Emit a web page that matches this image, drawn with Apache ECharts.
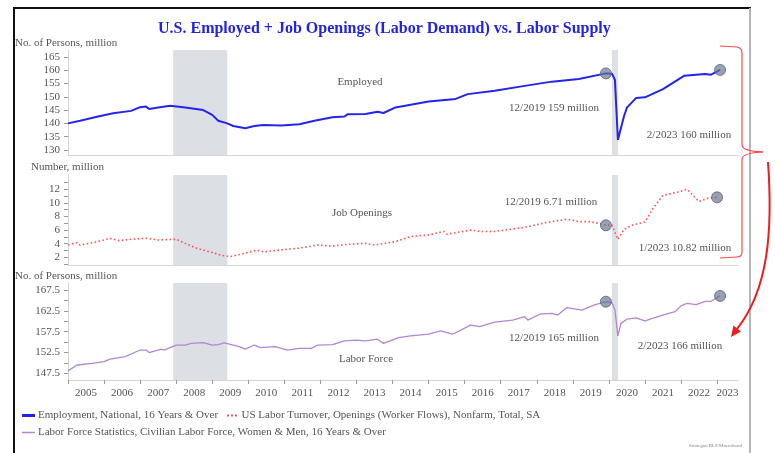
<!DOCTYPE html>
<html>
<head>
<meta charset="utf-8">
<script src="https://cdn.jsdelivr.net/npm/echarts@6/dist/echarts.min.js"></script>
<style>
  html, body { margin: 0; padding: 0; background: #fff; }
  #chart { width: 775px; height: 453px; }
</style>
</head>
<body>
<div id="chart"></div>
<script>
// Employed (million)
const employedDates = ['2005-01','2005-05','2005-11','2006-04','2006-10','2007-01','2007-03','2007-04','2007-07','2007-11',
  '2008-04','2008-10','2009-01','2009-03','2009-06','2009-08','2009-12','2010-03','2010-06','2010-12',
  '2011-06','2011-11','2012-05','2012-09','2012-10','2013-04','2013-08','2013-10','2014-02','2015-01',
  '2015-10','2016-02','2016-11','2017-09','2018-06','2019-03','2019-12','2020-02','2020-03','2020-04',
  '2020-06','2020-07','2020-10','2021-01','2021-07','2022-02','2022-09','2022-11','2023-02'];
const employedValues = [140.0,141.0,142.6,143.8,144.7,146.1,146.3,145.4,146.0,146.6,
  146.0,145.0,143.2,141.0,140.0,139.0,138.2,139.0,139.4,139.2,
  139.7,141.0,142.3,142.6,143.4,143.5,144.4,143.9,146.0,148.2,
  149.2,151.0,152.3,154.1,155.7,156.7,158.8,158.7,156.4,133.8,
  142.6,145.9,149.5,149.8,152.9,157.9,158.6,158.3,160.1];

// Job openings (million), middle panel
const openingsDates = ['2005-01','2005-04','2005-05','2005-11','2006-03','2006-06','2006-10','2007-03','2007-07','2008-01',
  '2008-04','2008-08','2009-01','2009-04','2009-07','2009-10','2010-04','2010-06','2010-12','2011-06',
  '2011-12','2012-05','2012-10','2013-04','2013-07','2014-02','2014-07','2015-01','2015-06','2015-07',
  '2016-03','2016-06','2016-11','2017-04','2017-10','2018-04','2018-11','2019-03','2019-07','2019-12',
  '2020-02','2020-04','2020-06','2020-09','2021-01','2021-04','2021-07','2021-12','2022-03','2022-05',
  '2022-07','2022-10','2023-01'];
const openingsValues = [3.8,4.15,3.8,4.3,4.8,4.45,4.65,4.8,4.55,4.65,
  4.05,3.3,2.7,2.3,2.1,2.4,3.07,2.8,3.1,3.35,
  3.8,3.65,3.9,4.05,3.8,4.3,5.05,5.3,5.8,5.4,
  6.0,5.8,5.8,6.1,6.5,7.1,7.6,7.25,7.25,6.71,
  6.75,4.65,6.1,6.75,7.2,9.4,11.1,11.6,12.0,11.1,
  10.2,10.7,10.82];

// Civilian labor force (million), bottom panel
const laborDates = ['2005-01','2005-04','2005-09','2006-01','2006-03','2006-08','2007-01','2007-03','2007-04','2007-08',
  '2007-09','2008-01','2008-04','2008-06','2008-10','2009-01','2009-03','2009-05','2009-08','2009-10',
  '2009-12','2010-03','2010-05','2010-10','2010-12','2011-02','2011-06','2011-10','2011-12','2012-05',
  '2012-09','2013-01','2013-04','2013-08','2013-10','2014-03','2014-07','2015-01','2015-05','2015-09',
  '2016-03','2016-06','2016-11','2017-05','2017-09','2017-10','2018-02','2018-06','2018-08','2018-11',
  '2019-04','2019-08','2019-12','2020-02','2020-03','2020-04','2020-05','2020-07','2020-10','2021-01',
  '2021-04','2021-08','2021-11','2022-01','2022-03','2022-06','2022-09','2022-11','2023-02'];
const laborValues = [148.1,149.5,149.9,150.3,150.9,151.5,153.1,153.1,152.5,153.3,
  153.1,154.3,154.3,154.7,154.9,154.3,154.4,154.8,154.3,153.9,
  153.3,154.3,153.7,153.9,153.5,153.1,153.5,153.5,154.3,154.4,
  155.3,155.5,155.3,155.7,154.7,156.1,156.5,156.9,157.7,156.9,
  159.1,158.7,159.8,160.3,161.1,160.3,161.7,161.9,161.5,163.3,
  162.7,163.9,164.7,164.5,162.7,156.5,159.5,160.5,160.8,160.1,
  160.8,161.7,162.3,163.7,164.3,164.0,164.8,164.8,166.1];

// highlighted points
const employedMarks = ['2019-12', '2023-02'];
const openingsMarks = ['2019-12', '2023-01'];
const laborMarks = ['2019-12', '2023-02'];

// recessions shaded
const recessions = [['2007-12', '2009-06'], ['2020-02', '2020-04']];

// axis ticks / labels
const yearTicks = [2005,2006,2007,2008,2009,2010,2011,2012,2013,2014,2015,2016,2017,2018,2019,2020,2021,2022,2023];
const yearLabelPos = [2005.5,2006.5,2007.5,2008.5,2009.5,2010.5,2011.5,2012.5,2013.5,2014.5,2015.5,2016.5,2017.5,2018.5,2019.5,2020.5,2021.5,2022.5,2023.29];
const employedTicks = [130,135,140,145,150,155,160,165];
const openingsLabels = [2,4,6,8,10,12];
const openingsTicks = [1,2,3,4,5,6,7,8,9,10,11,12,13];
const laborLabels = [147.5,152.5,157.5,162.5,167.5];
const laborTicks = [147.5,150,152.5,155,157.5,160,162.5,165,167.5];

const NAMES = {
  emp: 'Employment, National, 16 Years & Over',
  open: 'US Labor Turnover, Openings (Worker Flows), Nonfarm, Total, SA',
  lab: 'Labor Force Statistics, Civilian Labor Force, Women & Men, 16 Years & Over'
};

const FONT = 'Liberation Serif';
const GREY = '#555';
const RED = '#ff4a4a';
const XMIN = 2005, XMAX = 2023.58;

const toYear = s => { const [y, m] = s.split('-').map(Number); return y + (m - 1) / 12; };
const pairs = (dates, vals) => dates.map((d, i) => [toYear(d), vals[i]]);
const marks = (sel, dates, vals) => sel.map(d => [toYear(d), vals[dates.indexOf(d)]]);
const shade = recessions.map(r => [{ xAxis: toYear(r[0]) }, { xAxis: toYear(r[1]) }]);

function yAxisFor(idx, min, max, labels, ticks, fmt) {
  return {
    type: 'value', gridIndex: idx, min: min, max: max,
    axisLine: { show: true, lineStyle: { color: '#d6d6d6' } },
    axisTick: { show: true, length: 4, customValues: ticks, lineStyle: { color: '#999' } },
    axisLabel: { customValues: labels, color: GREY, fontSize: 11, fontFamily: FONT, margin: 8, formatter: fmt },
    splitLine: { show: false }
  };
}

function xAxisFor(idx, bottom) {
  return {
    type: 'value', gridIndex: idx, min: XMIN, max: XMAX,
    axisLine: { show: true, onZero: false, lineStyle: { color: '#d6d6d6' } },
    axisTick: { show: bottom, length: 4, customValues: yearTicks, lineStyle: { color: '#999' } },
    axisLabel: {
      show: bottom, customValues: yearLabelPos, color: GREY, fontSize: 11, fontFamily: FONT, margin: 8,
      formatter: v => String(Math.floor(v))
    },
    splitLine: { show: false }
  };
}

function legendFor(name, left, top, icon, h) {
  return {
    left: left, top: top, padding: 0, itemWidth: 13, itemHeight: h,
    data: [{ name: name, icon: icon }],
    textStyle: { color: GREY, fontSize: 11, fontFamily: FONT, padding: [0, 0, 0, -2] }
  };
}

function dot(idx, data) {
  return {
    type: 'scatter', xAxisIndex: idx, yAxisIndex: idx, data: data, symbolSize: 11, z: 4,
    itemStyle: { color: 'rgba(104,116,140,0.85)', borderColor: '#5b6478', borderWidth: 1 },
    silent: true
  };
}

function txt(x, y, s, align) {
  return {
    type: 'text', x: x, y: y, silent: true,
    style: { text: s, fill: GREY, font: '11px "' + FONT + '"', textAlign: align || 'center', textVerticalAlign: 'middle' }
  };
}

function seg(x1, y1, x2, y2) {
  return { type: 'line', silent: true, shape: { x1: x1, y1: y1, x2: x2, y2: y2 }, style: { stroke: RED, lineWidth: 1.2 } };
}

function curve(x1, y1, cx, cy, x2, y2) {
  return { type: 'bezierCurve', silent: true, shape: { x1: x1, y1: y1, cpx1: cx, cpy1: cy, x2: x2, y2: y2 }, style: { stroke: RED, lineWidth: 1.2, fill: null } };
}

const chart = echarts.init(document.getElementById('chart'), null, { renderer: 'canvas' });

chart.setOption({
  animation: false,
  backgroundColor: '#fff',
  textStyle: { fontFamily: FONT },
  title: {
    text: 'U.S. Employed + Job Openings (Labor Demand) vs. Labor Supply',
    left: 153, top: 16,
    textStyle: { color: '#2323e6', fontSize: 16, fontWeight: 'bold', fontFamily: FONT }
  },
  grid: [
    { left: 68, right: 37, top: 50, height: 105, outerBoundsMode: 'none' },
    { left: 68, right: 37, top: 175, height: 90, outerBoundsMode: 'none' },
    { left: 68, right: 37, top: 283, height: 97, outerBoundsMode: 'none' }
  ],
  xAxis: [xAxisFor(0, false), xAxisFor(1, false), xAxisFor(2, true)],
  yAxis: [
    yAxisFor(0, 128.1, 167.6, employedTicks, employedTicks, v => String(v)),
    yAxisFor(1, 0.87, 14.1, openingsLabels, openingsTicks, v => String(v)),
    yAxisFor(2, 145.9, 169.2, laborLabels, laborTicks, v => v.toFixed(1))
  ],
  legend: [
    legendFor(NAMES.emp, 22, 410, 'rect', 3),
    legendFor(NAMES.open, 227, 410, 'path://M0,0h2v2h-2zM4,0h2v2h-2zM8,0h2v2h-2z', 2),
    legendFor(NAMES.lab, 22, 427, 'rect', 1.5)
  ],
  series: [
    {
      name: NAMES.emp, type: 'line', xAxisIndex: 0, yAxisIndex: 0, z: 3,
      data: pairs(employedDates, employedValues), showSymbol: false, symbol: 'none',
      lineStyle: { color: '#2424ee', width: 2 }, itemStyle: { color: '#2424ee' },
      markArea: { silent: true, itemStyle: { color: '#dcdfe4' }, data: shade }
    },
    {
      name: NAMES.open, type: 'line', xAxisIndex: 1, yAxisIndex: 1, z: 3,
      data: pairs(openingsDates, openingsValues), showSymbol: false, symbol: 'none',
      lineStyle: { color: '#ff5454', width: 1.6, type: [1.6, 2.4] }, itemStyle: { color: '#ff5454' },
      markArea: { silent: true, itemStyle: { color: '#dcdfe4' }, data: shade }
    },
    {
      name: NAMES.lab, type: 'line', xAxisIndex: 2, yAxisIndex: 2, z: 3,
      data: pairs(laborDates, laborValues), showSymbol: false, symbol: 'none',
      lineStyle: { color: '#b486d6', width: 1.3 }, itemStyle: { color: '#b486d6' },
      markArea: { silent: true, itemStyle: { color: '#dcdfe4' }, data: shade }
    },
    dot(0, marks(employedMarks, employedDates, employedValues)),
    dot(1, marks(openingsMarks, openingsDates, openingsValues)),
    dot(2, marks(laborMarks, laborDates, laborValues))
  ],
  graphic: [
    // frame
    { type: 'line', silent: true, shape: { x1: 14, y1: 8, x2: 14, y2: 453 }, style: { stroke: '#111', lineWidth: 2 } },
    { type: 'line', silent: true, shape: { x1: 13, y1: 8, x2: 751, y2: 8 }, style: { stroke: '#111', lineWidth: 2 } },
    { type: 'line', silent: true, shape: { x1: 750, y1: 8, x2: 750, y2: 453 }, style: { stroke: '#b5b5b5', lineWidth: 2 } },
    // axis names
    txt(15, 43, 'No. of Persons, million', 'left'),
    txt(31, 167, 'Number, million', 'left'),
    txt(15, 276, 'No. of Persons, million', 'left'),
    // annotations
    txt(360, 82, 'Employed'),
    txt(554, 108, '12/2019 159 million'),
    txt(689, 135, '2/2023 160 million'),
    txt(362, 213, 'Job Openings'),
    txt(551, 202, '12/2019 6.71 million'),
    txt(685, 248, '1/2023 10.82 million'),
    txt(366, 359, 'Labor Force'),
    txt(554, 338, '12/2019 165 million'),
    txt(680, 346, '2/2023 166 million'),
    {
      type: 'text', x: 742, y: 446, silent: true,
      style: { text: 'Strategas/BLS/Macrobond', fill: '#888', font: '5px "' + FONT + '"', textAlign: 'right', textVerticalAlign: 'middle' }
    },
    // red brace
    seg(720, 46, 737, 47),
    curve(737, 47, 742, 48, 742, 53),
    seg(742, 53, 742, 145),
    curve(742, 145, 742, 151, 763, 152),
    curve(763, 152, 742, 153, 742, 159),
    seg(742, 159, 742, 252),
    curve(742, 252, 742, 257, 737, 257),
    seg(737, 257, 720, 258),
    // red arrow
    {
      type: 'bezierCurve', silent: true,
      shape: { x1: 768, y1: 162, cpx1: 773, cpy1: 232, cpx2: 768, cpy2: 290, x2: 737, y2: 329 },
      style: { stroke: '#ee1c1c', lineWidth: 2, fill: null }
    },
    {
      type: 'polygon', silent: true,
      shape: { points: [[731, 337], [741, 331.5], [733.5, 325.5]] },
      style: { fill: '#ee1c1c' }
    }
  ]
});
</script>
</body>
</html>
